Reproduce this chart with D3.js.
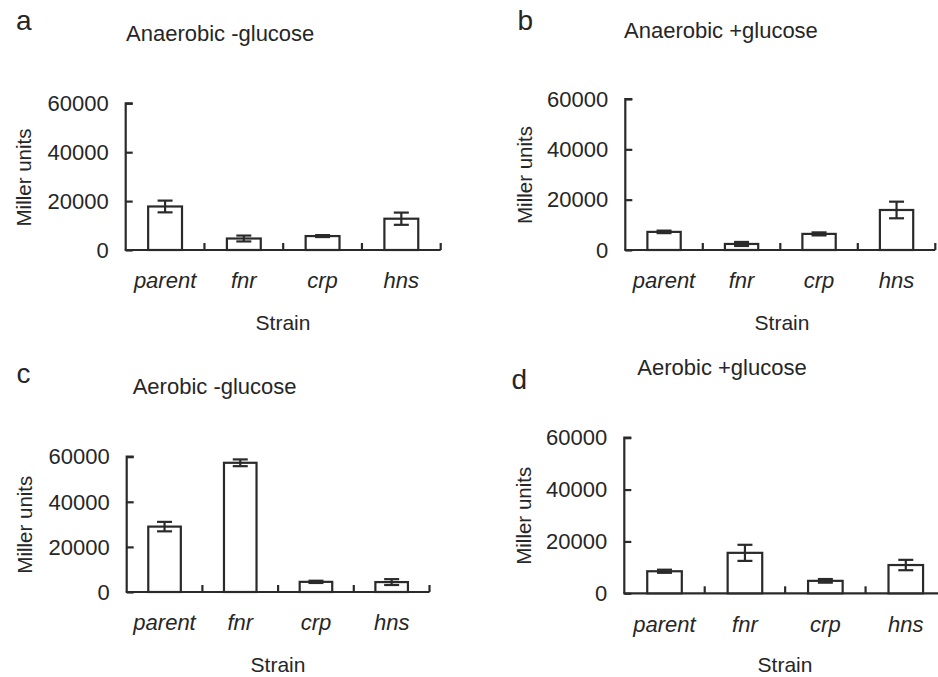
<!DOCTYPE html>
<html>
<head>
<meta charset="utf-8">
<script src="https://cdn.jsdelivr.net/npm/d3@7"></script>
<style>
  html, body { margin: 0; padding: 0; background: #fff; }
  svg { display: block; }
  text { font-family: "Liberation Sans", Arial, sans-serif; fill: #262626; }
</style>
</head>
<body>
<svg id="chart" width="938" height="677"></svg>
<script>
// ---- data ----
const strains = ["parent", "fnr", "crp", "hns"];
const yTicks = [0, 20000, 40000, 60000];
const panelLetters = ["a", "b", "c", "d"];
const panelTitles = ["Anaerobic -glucose", "Anaerobic +glucose", "Aerobic -glucose", "Aerobic +glucose"];
const meansA = [17800, 4700, 5700, 12800];
const errorsA = [2400, 1200, 400, 2500];
const meansB = [7200, 2400, 6400, 15900];
const errorsB = [500, 800, 600, 3300];
const meansC = [29000, 57300, 4500, 4400];
const errorsC = [2100, 1500, 500, 1300];
const meansD = [8500, 15600, 4800, 10900];
const errorsD = [600, 3100, 700, 2000];
const yLabel = "Miller units";
const xLabel = "Strain";

// ---- layout (pixel geometry of each panel) ----
const layouts = [
  { x0: 125.7, x1: 440.7, yZero: 250, yTop: 103.3, titleX: 126, titleY: 41, letterX: 16, letterY: 29.5,
    ylabX: 31, ylabY: 177.5, catY: 288, strainX: 283, strainY: 330 },
  { x0: 625.3, x1: 935.3, yZero: 250, yTop: 99, titleX: 624, titleY: 37.5, letterX: 517.5, letterY: 30,
    ylabX: 531.5, ylabY: 175, catY: 288, strainX: 782, strainY: 330 },
  { x0: 126.7, x1: 429.5, yZero: 592, yTop: 456.7, titleX: 132.7, titleY: 394, letterX: 16.5, letterY: 382.7,
    ylabX: 32, ylabY: 524.7, catY: 630, strainX: 278, strainY: 671.5 },
  { x0: 624.3, x1: 946, yZero: 593.3, yTop: 437.7, titleX: 637.3, titleY: 375, letterX: 511.5, letterY: 389,
    ylabX: 530.5, ylabY: 515.8, catY: 631.7, strainX: 785, strainY: 671.5 }
];
const allMeans = [meansA, meansB, meansC, meansD];
const allErrors = [errorsA, errorsB, errorsC, errorsD];

const ink = "#2a2a2a";
const sw = 2.2;
const svg = d3.select("#chart");

layouts.forEach((L, i) => {
  const g = svg.append("g");
  const x = d3.scaleBand().domain(strains).range([L.x0, L.x1]).paddingInner(0.57).paddingOuter(0.285);
  const y = d3.scaleLinear().domain([0, 60000]).range([L.yZero, L.yTop]);
  const data = strains.map((s, k) => ({ s, v: allMeans[i][k], e: allErrors[i][k] }));

  // panel letter & title
  g.append("text").attr("x", L.letterX).attr("y", L.letterY).attr("font-size", 28).text(panelLetters[i]);
  g.append("text").attr("x", L.titleX).attr("y", L.titleY).attr("font-size", 22).text(panelTitles[i]);

  // y axis (ticks inward)
  const yAxis = d3.axisRight(y).tickValues(yTicks).tickSize(7).tickFormat("");
  const ya = g.append("g").attr("transform", `translate(${L.x0},0)`).call(yAxis);
  ya.select(".domain").attr("d", `M7,${L.yTop}H0V${L.yZero}`);
  ya.selectAll("line, path").attr("stroke", ink).attr("stroke-width", sw);
  g.selectAll(".ytl").data(yTicks).join("text")
    .attr("x", L.x0 - 17).attr("y", d => y(d)).attr("dy", "0.35em")
    .attr("text-anchor", "end").attr("font-size", 22).text(d => d);

  // x axis line with upward ticks at band boundaries
  g.append("line").attr("x1", L.x0 - 1).attr("x2", L.x1).attr("y1", L.yZero).attr("y2", L.yZero)
    .attr("stroke", ink).attr("stroke-width", sw);
  const step = x.step();
  g.selectAll(".xt").data(strains).join("line")
    .attr("x1", s => x(s) + x.bandwidth() / 2 + step / 2)
    .attr("x2", s => x(s) + x.bandwidth() / 2 + step / 2)
    .attr("y1", L.yZero).attr("y2", L.yZero - 7)
    .attr("stroke", ink).attr("stroke-width", sw);

  // bars
  g.selectAll(".bar").data(data).join("rect")
    .attr("x", d => x(d.s)).attr("width", x.bandwidth())
    .attr("y", d => y(d.v)).attr("height", d => y(0) - y(d.v))
    .attr("fill", "#fff").attr("stroke", ink).attr("stroke-width", sw);

  // error bars
  const cap = 7.5;
  const eb = g.selectAll(".eb").data(data).join("g");
  eb.append("line")
    .attr("x1", d => x(d.s) + x.bandwidth() / 2).attr("x2", d => x(d.s) + x.bandwidth() / 2)
    .attr("y1", d => y(d.v - d.e)).attr("y2", d => y(d.v + d.e))
    .attr("stroke", ink).attr("stroke-width", sw);
  eb.append("line")
    .attr("x1", d => x(d.s) + x.bandwidth() / 2 - cap).attr("x2", d => x(d.s) + x.bandwidth() / 2 + cap)
    .attr("y1", d => y(d.v + d.e)).attr("y2", d => y(d.v + d.e))
    .attr("stroke", ink).attr("stroke-width", sw);
  eb.append("line")
    .attr("x1", d => x(d.s) + x.bandwidth() / 2 - cap).attr("x2", d => x(d.s) + x.bandwidth() / 2 + cap)
    .attr("y1", d => y(d.v - d.e)).attr("y2", d => y(d.v - d.e))
    .attr("stroke", ink).attr("stroke-width", sw);

  // category labels
  g.selectAll(".cat").data(strains).join("text")
    .attr("x", s => x(s) + x.bandwidth() / 2).attr("y", L.catY)
    .attr("text-anchor", "middle").attr("font-size", 22).attr("font-style", "italic").text(s => s);

  // axis titles
  g.append("text").attr("x", L.strainX).attr("y", L.strainY).attr("text-anchor", "middle")
    .attr("font-size", 21).text(xLabel);
  g.append("text").attr("transform", `translate(${L.ylabX},${L.ylabY}) rotate(-90)`)
    .attr("text-anchor", "middle").attr("font-size", 20.5).text(yLabel);
});
</script>
</body>
</html>
